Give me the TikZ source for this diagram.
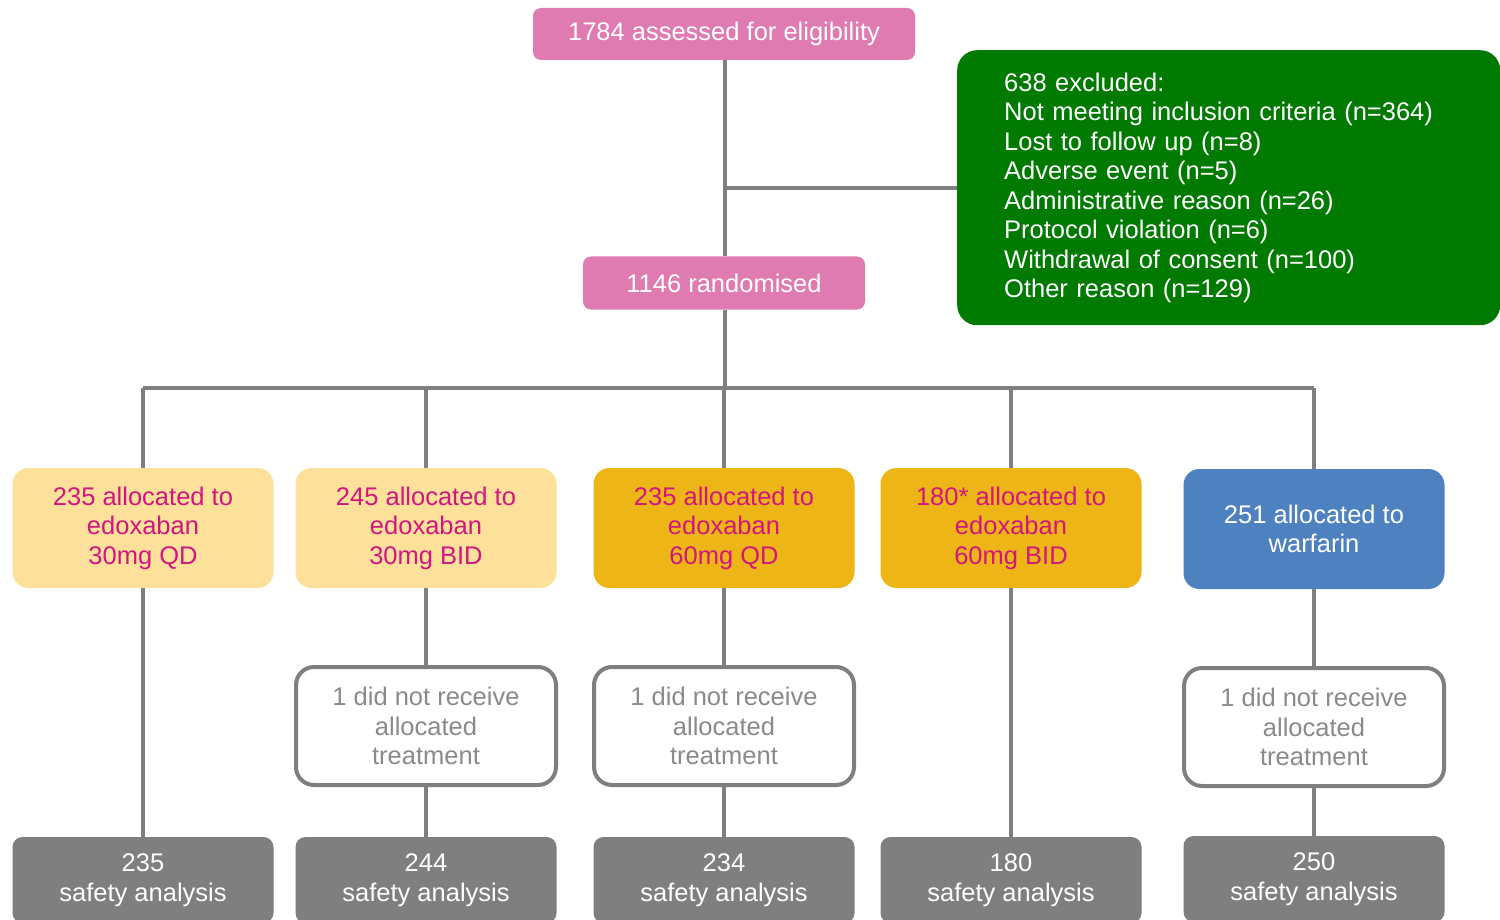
\documentclass[tikz,border=0pt]{standalone}
\usepackage{fontspec}
\setmainfont{Liberation Sans}
\definecolor{boxpink}{HTML}{E07BB1}
\definecolor{boxgreen}{HTML}{007A00}
\definecolor{lightgold}{HTML}{FDE19B}
\definecolor{darkgold}{HTML}{EDB515}
\definecolor{boxblue}{HTML}{4E81C0}
\definecolor{armtext}{HTML}{D1167F}
\definecolor{linegray}{HTML}{7F7F7F}
\definecolor{notetext}{HTML}{8A8A8A}

\begin{document}
\begin{tikzpicture}[x=1pt, y=-1pt,
    every node/.style={font=\fontsize{25.5}{29.5}\selectfont, inner sep=0pt, align=center},
    link/.style={draw=linegray, line width=4pt},
    headbox/.style={fill=boxpink, text=white, rounded corners=8pt},
    armbox/.style={rounded corners=16pt, minimum width=261pt, minimum height=120pt, text=armtext},
    notebox/.style={draw=linegray, line width=4pt, fill=white, rounded corners=18pt,
      minimum width=260pt, minimum height=118pt, text=notetext},
    safebox/.style={fill=linegray, text=white, rounded corners=10pt,
      minimum width=261pt, minimum height=86pt}]
    \useasboundingbox (0,0) rectangle (1500,920);
    \clip (0,0) rectangle (1500,920);

    \node[headbox, minimum width=382pt, minimum height=52pt] (assess) at (724,34) {1784 assessed for eligibility};
    \node[headbox, minimum width=282pt, minimum height=53pt] (rand) at (724,283) {1146 randomised};
    \node[fill=boxgreen, text=white, rounded corners=20pt, anchor=north west, align=left,
      text width=449pt, inner xsep=47pt, minimum height=275pt] (excl) at (957,50)
      {638 excluded:\\
       Not meeting inclusion criteria (n=364)\\
       Lost to follow up (n=8)\\
       Adverse event (n=5)\\
       Administrative reason (n=26)\\
       Protocol violation (n=6)\\
       Withdrawal of consent (n=100)\\
       Other reason (n=129)};

    \node[armbox, fill=lightgold] (a1) at (143,528) {235 allocated to\\edoxaban\\30mg QD};
    \node[armbox, fill=lightgold] (a2) at (426,528) {245 allocated to\\edoxaban\\30mg BID};
    \node[armbox, fill=darkgold] (a3) at (724,528) {235 allocated to\\edoxaban\\60mg QD};
    \node[armbox, fill=darkgold] (a4) at (1011,528) {180* allocated to\\edoxaban\\60mg BID};
    \node[armbox, fill=boxblue, text=white] (a5) at (1314,529) {251 allocated to\\warfarin};

    \node[notebox] (d2) at (426,726) {1 did not receive\\allocated\\treatment};
    \node[notebox] (d3) at (724,726) {1 did not receive\\allocated\\treatment};
    \node[notebox] (d5) at (1314,727) {1 did not receive\\allocated\\treatment};

    \node[safebox] (s1) at (143,880) {235\\safety analysis};
    \node[safebox] (s2) at (426,880) {244\\safety analysis};
    \node[safebox] (s3) at (724,880) {234\\safety analysis};
    \node[safebox] (s4) at (1011,880) {180\\safety analysis};
    \node[safebox] (s5) at (1314,879) {250\\safety analysis};

    \coordinate (bar) at (725,388);
    \draw[link] (assess.south -| 725,0) -- (rand.north -| 725,0);
    \draw[link] (725,0 |- excl.west) -- (excl.west);
    \draw[link] (rand.south -| bar) -- (bar);
    \draw[link] (a1.north |- bar) -- (a5.north |- bar);
    \foreach \n in {a1,a2,a3,a4,a5}
      \draw[link] (\n.north |- bar) -- (\n.north);
    \draw[link] (a1) -- (s1);
    \draw[link] (a2) -- (d2) -- (s2);
    \draw[link] (a3) -- (d3) -- (s3);
    \draw[link] (a4) -- (s4);
    \draw[link] (a5) -- (d5) -- (s5);
\end{tikzpicture}
\end{document}
